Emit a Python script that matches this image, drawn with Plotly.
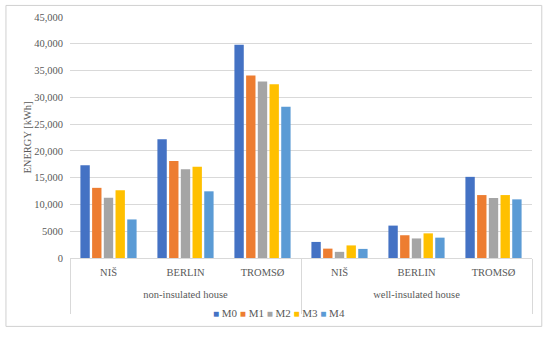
import plotly.graph_objects as go

outer = ["<br>non-insulated house<br> "] * 3 + ["<br>well-insulated house<br> "] * 3
cities = ["NIŠ", "BERLIN", "TROMSØ", "NIŠ", "BERLIN", "TROMSØ"]
series_names = ["M0", "M1", "M2", "M3", "M4"]
M0 = [17300, 22150, 39800, 3000, 6050, 15150]
M1 = [13100, 18100, 34100, 1750, 4250, 11750]
M2 = [11250, 16550, 32950, 1150, 3650, 11200]
M3 = [12650, 17050, 32450, 2350, 4600, 11750]
M4 = [7200, 12450, 28250, 1700, 3800, 10950]
tick_vals = [0, 5000, 10000, 15000, 20000, 25000, 30000, 35000, 40000, 45000]
tick_text = ["0", "5000", "10,000", "15,000", "20,000", "25,000", "30,000", "35,000", "40,000", "45,000"]
colors = ["#4472C4", "#ED7D31", "#A5A5A5", "#FFC000", "#5B9BD5"]

FONT = "Liberation Serif"
TXT = "#595959"

fig = go.Figure()
for name, vals, c in zip(series_names, [M0, M1, M2, M3, M4], colors):
    fig.add_trace(go.Bar(x=[outer, cities], y=vals, name=name,
                         marker=dict(color=c, line=dict(width=0)), showlegend=False))

legend_text = " ".join(
    f"<span style='color:{c};font-size:10px'>■</span> {n}" for n, c in zip(series_names, colors)
)

fig.update_layout(
    width=550, height=338,
    margin=dict(l=70, r=18, t=17, b=80, autoexpand=False),
    paper_bgcolor="white", plot_bgcolor="white",
    barmode="group", bargap=0.24, bargroupgap=0.2,
    font=dict(family=FONT, size=10.5, color=TXT),
    showlegend=False,
)
fig.add_annotation(text=legend_text, xref="paper", yref="paper", x=0.4525, y=-0.228,
                   xanchor="center", yanchor="middle", showarrow=False,
                   font=dict(family=FONT, size=11, color=TXT))
fig.update_xaxes(showline=True, linecolor="#d9d9d9", linewidth=1, automargin=False,
                 showdividers=True, dividercolor="#d9d9d9", dividerwidth=1,
                 ticklabelstandoff=4,
                 tickfont=dict(family=FONT, size=10.5, color=TXT), ticks="")
fig.update_yaxes(range=[0, 45000], tickvals=tick_vals, ticktext=tick_text,
                 showgrid=True, gridcolor="#d9d9d9", gridwidth=1, zeroline=False,
                 ticks="", ticklabelstandoff=6, automargin=False,
                 tickfont=dict(family=FONT, size=10.5, color=TXT),
                 title=dict(text="ENERGY [kWh]", standoff=0, font=dict(family=FONT, size=10.5, color=TXT)))
fig.add_shape(type="rect", xref="paper", yref="paper",
              x0=-0.1386, x1=1.0212, y0=-0.2838, y1=1.048,
              line=dict(color="#d0d0d0", width=1), fillcolor="rgba(0,0,0,0)", layer="below")

fig.write_html("out.html", config={"displayModeBar": False},
               post_script="document.body.style.margin='0';")
